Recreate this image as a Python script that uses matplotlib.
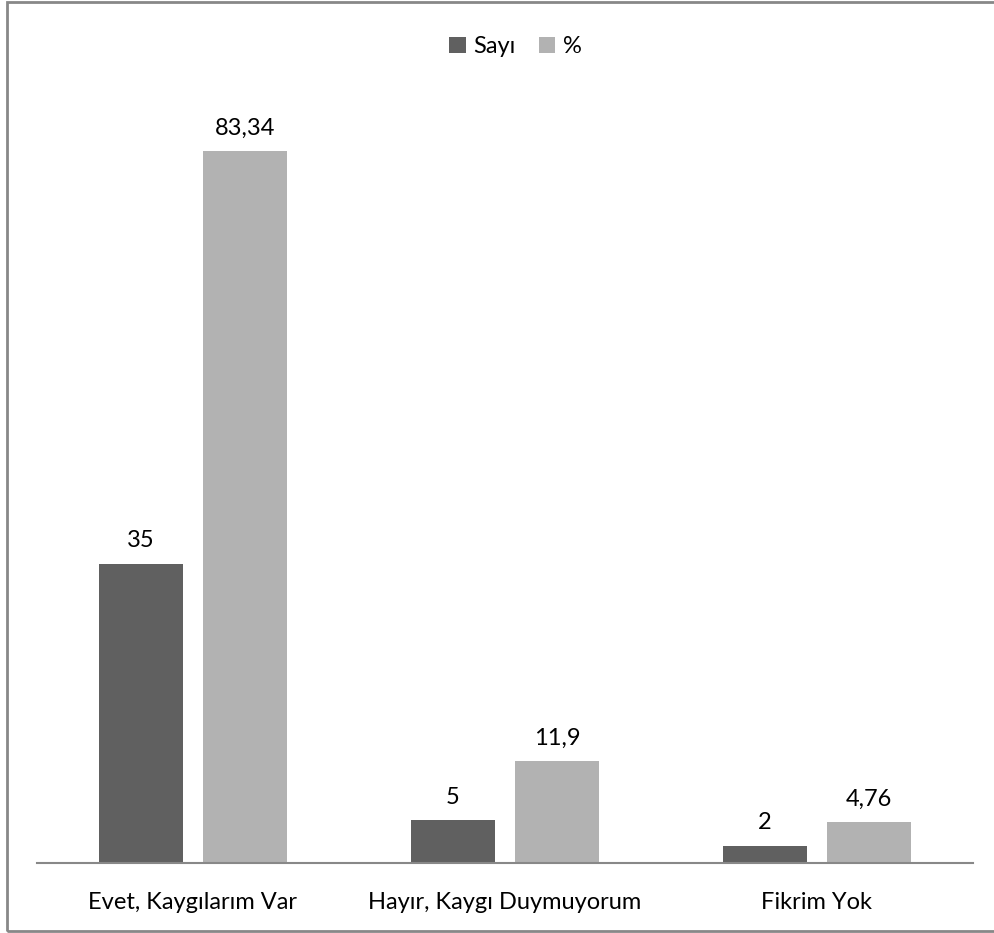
import numpy as np
import matplotlib.pyplot as plt
from matplotlib.patches import Rectangle

categories = ["Evet, Kaygılarım Var", "Hayır, Kaygı Duymuyorum", "Fikrim Yok"]
sayi = [35, 5, 2]
yuzde = [83.34, 11.9, 4.76]
sayi_labels = ["35", "5", "2"]
yuzde_labels = ["83,34", "11,9", "4,76"]

plt.rcParams['font.family'] = ['Lato', 'DejaVu Sans']

fig = plt.figure(figsize=(9.95, 9.33), dpi=100)
ax = fig.add_axes([37/995, 70/933, 936/995, (863-94)/933])

x = np.arange(len(categories))
w = 0.269
off = 0.1667
dark = '#606060'
light = '#b2b2b2'
fs = 17
ax.bar(x - off, sayi, w, color=dark, label='Sayı')
ax.bar(x + off, yuzde, w, color=light, label='%')

for xi, v, s in zip(x, sayi, sayi_labels):
    ax.annotate(s, (xi - off, v), xytext=(0, 9), textcoords='offset points',
                ha='center', va='bottom', fontsize=fs)
for xi, v, s in zip(x, yuzde, yuzde_labels):
    ax.annotate(s, (xi + off, v), xytext=(0, 9), textcoords='offset points',
                ha='center', va='bottom', fontsize=fs)

ax.set_xlim(-0.5, 2.5)
ax.set_ylim(0, 90)
ax.set_xticks(x)
ax.set_xticklabels(categories, fontsize=fs)
ax.tick_params(axis='x', length=0, pad=21)
ax.set_yticks([])
for s in ['top', 'right', 'left']:
    ax.spines[s].set_visible(False)
ax.spines['bottom'].set_color('#888888')
ax.spines['bottom'].set_linewidth(1.5)

fig.legend(loc='upper center', bbox_to_anchor=(0.518, 0.984), ncol=2, frameon=False,
           fontsize=fs, handlelength=0.7, handleheight=0.7, handletextpad=0.3,
           columnspacing=1.0)

fig.patches.append(Rectangle((7/995, 2/933), 1.1, 929/933, transform=fig.transFigure,
                             fill=False, edgecolor='#888888', linewidth=2))

fig.savefig('out.png', dpi=100)
